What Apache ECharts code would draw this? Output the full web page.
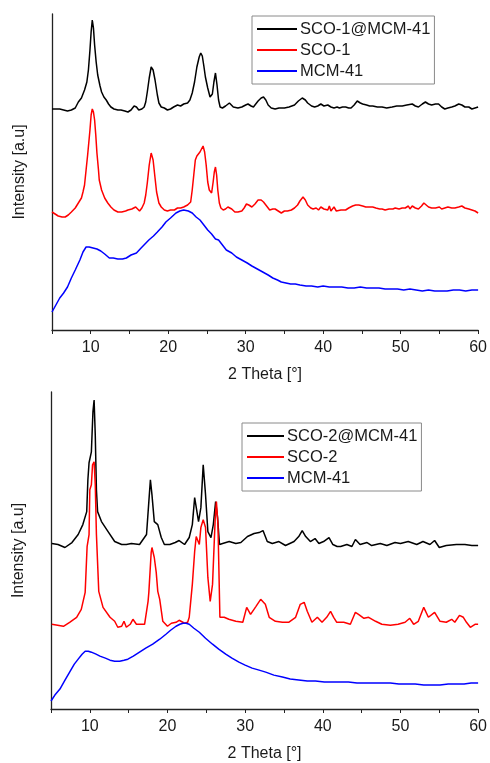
<!DOCTYPE html>
<html><head><meta charset="utf-8">
<script src="https://cdn.jsdelivr.net/npm/echarts@6/dist/echarts.min.js"></script>
<style>html,body{margin:0;padding:0;background:#fff}#c{width:490px;height:763px}</style>
</head><body><div id="c"></div>
<script>
// ---- data: [2theta (deg), intensity (a.u., offset stacked)] ----
const xTicks = [10, 20, 30, 40, 50, 60];
const topNames = ['SCO-1@MCM-41', 'SCO-1', 'MCM-41'];
const botNames = ['SCO-2@MCM-41', 'SCO-2', 'MCM-41 '];

const topBlack = [[5.0,221],[5.5,221],[6.0,221],[6.5,220],[7.0,219],[7.5,220],[8.0,222],[8.4,228],[8.8,232],[9.2,240],[9.5,248],[9.7,260],[9.9,280],[10.05,298],[10.2,310],[10.35,302],[10.5,285],[10.7,268],[10.9,255],[11.2,244],[11.4,238],[11.7,233],[12.0,230],[12.3,226],[12.6,223],[13.0,221],[13.5,220],[13.9,220],[14.4,219],[14.8,218],[15.2,220],[15.6,224],[15.9,223],[16.2,220],[16.6,221],[16.9,223],[17.1,228],[17.3,238],[17.55,252],[17.8,263],[18.05,260],[18.3,250],[18.6,235],[18.8,227],[19.1,223],[19.5,222],[19.9,220],[20.3,221],[20.7,223],[21.2,225],[21.6,224],[22.0,226],[22.5,227],[22.8,230],[23.1,237],[23.4,248],[23.7,263],[24.0,273],[24.2,277],[24.4,274],[24.6,264],[24.8,253],[25.1,242],[25.4,233],[25.7,236],[25.9,248],[26.1,257],[26.3,245],[26.5,230],[26.7,223],[27.0,222],[27.4,224],[27.9,227],[28.4,223],[29.0,222],[29.5,223],[30.0,225],[30.3,226],[30.7,224],[31.0,223],[31.3,226],[31.6,229],[32.0,232],[32.3,233],[32.6,230],[32.9,225],[33.3,222],[33.8,221],[34.3,222],[35.0,222],[35.6,223],[36.3,225],[36.8,229],[37.3,232],[37.7,230],[38.0,227],[38.5,224],[38.9,223],[39.3,224],[39.7,226],[40.1,224],[40.6,225],[41.0,223],[41.4,222],[41.8,223],[42.1,222],[42.5,223],[42.9,223],[43.3,222],[43.6,222],[44.0,225],[44.4,229],[44.8,227],[45.1,226],[45.6,225],[46.0,224],[46.4,224],[47.0,223],[47.6,223],[48.2,222],[48.9,223],[49.5,224],[50.2,224],[50.8,225],[51.5,226],[51.9,224],[52.3,223],[52.8,226],[53.2,228],[53.6,226],[54.0,225],[54.5,226],[54.9,226],[55.3,223],[55.7,221],[56.1,222],[56.6,223],[57.0,224],[57.5,226],[57.9,225],[58.3,223],[58.8,223],[59.2,221],[59.6,222],[60.0,223]];

const topRed = [[5.0,118],[5.4,116],[5.8,114],[6.3,113],[6.7,113],[7.1,115],[7.5,118],[8.0,122],[8.4,127],[8.8,132],[9.0,138],[9.2,145],[9.4,160],[9.6,175],[9.9,200],[10.05,215],[10.2,221],[10.35,218],[10.5,210],[10.65,195],[10.8,177],[11.0,160],[11.1,150],[11.4,140],[11.8,132],[12.2,127],[12.6,123],[13.0,120],[13.5,118],[14.0,118],[14.5,119],[14.8,120],[15.3,121],[15.8,123],[16.3,119],[16.6,122],[16.9,127],[17.1,135],[17.3,147],[17.55,165],[17.8,177],[18.05,170],[18.3,152],[18.5,138],[18.8,127],[19.1,123],[19.5,120],[19.9,119],[20.3,120],[20.8,120],[21.2,122],[21.6,122],[22.0,123],[22.5,125],[22.9,128],[23.1,140],[23.3,155],[23.5,170],[23.7,174],[23.9,175],[24.1,178],[24.3,180],[24.5,184],[24.7,178],[24.9,165],[25.1,148],[25.3,140],[25.6,137],[25.8,148],[25.95,158],[26.1,163],[26.25,155],[26.4,140],[26.6,127],[26.8,122],[27.1,120],[27.4,121],[27.7,123],[27.9,124],[28.2,121],[28.6,118],[29.0,118],[29.5,119],[29.8,122],[30.1,126],[30.4,125],[30.8,123],[31.2,126],[31.6,130],[32.0,130],[32.3,128],[32.7,124],[33.1,120],[33.5,121],[33.8,121],[34.2,119],[34.6,117],[35.0,119],[35.4,119],[35.9,120],[36.3,122],[36.7,125],[37.0,129],[37.4,133],[37.7,130],[38.0,125],[38.4,122],[38.7,121],[39.1,122],[39.4,120],[39.7,123],[40.1,121],[40.6,120],[40.8,124],[41.0,119],[41.4,123],[41.7,119],[41.9,118],[42.3,120],[42.9,120],[43.3,122],[43.8,124],[44.2,125],[44.6,125],[45.1,124],[45.5,123],[46.0,123],[46.4,123],[46.8,122],[47.3,121],[47.6,121],[48.0,120],[48.5,121],[49.0,121],[49.3,122],[49.8,121],[50.2,122],[50.6,122],[51.0,124],[51.2,121],[51.5,124],[51.9,122],[52.3,121],[52.7,124],[53.0,127],[53.3,125],[53.6,123],[54.0,122],[54.5,122],[55.0,123],[55.3,121],[55.7,122],[56.1,123],[56.6,122],[57.0,122],[57.5,123],[57.9,124],[58.3,122],[58.8,121],[59.2,120],[59.6,119],[60.0,117]];

const topBlue = [[5.0,18],[5.5,25],[6.0,32],[6.5,37],[7.0,43],[7.5,52],[8.0,60],[8.6,70],[9.0,78],[9.4,83],[9.8,83],[10.3,82],[10.8,81],[11.3,79],[11.8,76],[12.4,72],[12.9,72],[13.5,71],[14.1,71],[14.6,72],[15.2,75],[15.9,77],[16.5,82],[17.0,86],[17.5,90],[18.1,94],[18.6,98],[19.2,103],[19.7,108],[20.3,112],[21.0,117],[21.5,119],[22.0,120],[22.6,119],[23.1,117],[23.6,113],[24.1,110],[24.6,105],[25.1,100],[25.6,96],[26.1,91],[26.5,90],[27.0,85],[27.5,80],[28.2,77],[28.8,73],[29.5,70],[30.2,67],[30.8,64],[31.5,61],[32.2,58],[32.9,55],[33.5,52],[34.1,50],[34.6,48],[35.2,47],[35.8,46],[36.4,46],[37.0,45],[37.8,44],[38.5,44],[39.3,43],[40.0,44],[40.8,43],[41.6,43],[42.4,43],[43.2,42],[44.0,42],[44.8,43],[45.6,42],[46.4,42],[47.2,42],[48.0,41],[48.8,41],[49.6,41],[50.4,40],[51.2,41],[52.0,40],[52.8,39],[53.6,40],[54.4,39],[55.2,39],[56.0,39],[56.8,40],[57.6,40],[58.4,39],[59.2,40],[60.0,40]];

const botBlack = [[5.1,166],[5.9,165],[6.8,162],[7.7,167],[8.5,175],[9.1,185],[9.6,198],[9.75,230],[9.9,247],[10.0,248],[10.2,258],[10.4,298],[10.55,310],[10.7,275],[10.85,220],[11.0,198],[11.5,188],[12.35,178],[13.2,168],[14.1,165],[14.7,165],[15.35,166],[16.4,165],[16.6,163],[17.3,175],[17.6,208],[17.8,230],[17.9,231],[18.0,215],[18.3,188],[18.75,185],[19.2,172],[19.6,165],[20.3,165],[21.0,167],[21.5,169],[22.2,165],[22.8,172],[23.2,185],[23.5,212],[23.7,213],[24.0,188],[24.3,202],[24.6,245],[24.9,215],[25.2,178],[25.6,172],[25.9,185],[26.2,208],[26.45,192],[26.7,165],[27.1,166],[27.95,168],[28.8,166],[29.45,167],[30.3,173],[31.15,176],[31.8,177],[32.3,179],[32.85,168],[33.5,166],[34.35,168],[35.2,164],[36.3,168],[36.9,173],[37.35,179],[37.8,173],[38.4,168],[39.0,171],[39.5,166],[40.1,168],[40.8,172],[41.3,165],[41.85,163],[42.3,163],[43.1,165],[43.75,163],[44.2,170],[44.8,165],[45.7,167],[46.3,164],[47.4,166],[48.25,164],[49.3,167],[50.0,166],[51.0,168],[52.1,165],[52.9,168],[53.8,165],[54.4,169],[55.0,162],[55.9,164],[57.2,165],[58.3,165],[59.2,164],[60.0,164]];

const botRed = [[5.1,85],[6.6,83],[7.4,87],[8.3,92],[8.9,100],[9.4,117],[9.65,163],[9.9,175],[10.0,220],[10.2,225],[10.35,245],[10.55,248],[10.7,225],[10.85,175],[11.15,118],[11.3,117],[11.7,102],[11.9,100],[12.6,92],[12.8,92],[13.2,88],[13.6,82],[14.1,83],[14.4,88],[14.7,82],[15.2,85],[15.55,90],[15.7,92],[16.0,85],[16.2,86],[17.05,85],[17.5,108],[17.6,117],[17.9,157],[18.0,162],[18.1,160],[18.3,152],[18.55,137],[18.75,118],[19.0,110],[19.4,88],[20.0,83],[20.5,86],[20.7,85],[21.1,87],[21.5,89],[22.2,86],[22.6,87],[22.8,92],[23.2,125],[23.5,158],[23.7,173],[23.9,172],[24.1,165],[24.3,182],[24.6,190],[24.9,182],[25.2,132],[25.5,108],[25.8,125],[26.15,192],[26.3,208],[26.5,185],[26.75,92],[27.3,92],[27.9,90],[28.8,88],[29.7,87],[30.2,102],[30.7,95],[31.4,103],[32.0,110],[32.6,105],[33.1,92],[33.9,88],[34.8,87],[35.6,87],[36.5,92],[37.1,105],[37.6,107],[38.0,98],[38.6,87],[39.3,92],[39.9,87],[40.5,92],[41.0,98],[41.4,92],[41.8,87],[42.05,86],[42.7,87],[43.55,85],[44.2,97],[44.6,95],[45.3,91],[45.9,92],[46.8,88],[47.6,85],[48.7,84],[49.7,85],[50.6,87],[51.2,91],[51.7,85],[52.3,88],[53.0,102],[53.6,92],[54.4,97],[55.1,88],[55.9,87],[56.6,90],[57.0,87],[57.6,94],[58.1,92],[58.5,87],[59.0,82],[59.6,85],[60.0,85]];

const botBlue = [[5.0,8],[5.5,14],[6.15,20],[6.8,29],[7.4,37],[8.0,45],[8.5,50],[9.0,55],[9.4,58],[9.8,58],[10.2,57],[10.8,55],[11.3,53],[12.0,51],[12.6,49],[13.2,48],[13.85,48],[14.4,49],[14.9,50],[15.6,53],[16.4,57],[17.2,61],[18.1,65],[19.0,70],[19.8,75],[20.4,79],[21.1,83],[21.6,85],[22.0,86],[22.4,86],[22.8,85],[23.4,81],[24.1,77],[24.9,71],[25.8,65],[26.6,60],[27.5,55],[28.3,51],[29.2,47],[30.0,44],[30.9,41],[31.8,39],[32.65,37],[33.7,34],[34.8,32],[35.8,30],[36.9,29],[38.0,28],[39.05,28],[40.2,27],[41.2,27],[42.2,27],[43.3,27],[44.4,26],[45.5,26],[46.6,26],[47.6,26],[48.7,26],[49.8,25],[50.8,25],[51.9,25],[53.0,24],[54.0,24],[55.1,24],[56.15,25],[57.2,25],[58.2,25],[59.1,26],[60.0,26]];

// ---- chart ----
const FONT = '"Liberation Sans", Arial, sans-serif';
const colors = ['#000000', '#ff0000', '#0000ff'];
function xAxis(gi) {
  return {
    gridIndex: gi, type: 'value', min: 5, max: 60, interval: 5,
    name: '2 Theta [°]', nameLocation: 'middle', nameGap: 37,
    nameTextStyle: { fontFamily: FONT, fontSize: 16, color: '#1a1a1a' },
    axisLine: { lineStyle: { color: '#222', width: 1.3 } },
    axisTick: { show: true, length: 4, lineStyle: { color: '#222' } },
    axisLabel: { margin: 10, fontFamily: FONT, fontSize: 16, color: '#1a1a1a',
      formatter: v => xTicks.includes(v) ? String(v) : '' },
    splitLine: { show: false }
  };
}
function yAxis(gi, max) {
  return {
    gridIndex: gi, type: 'value', min: 0, max: max,
    name: 'Intensity [a.u]', nameLocation: 'middle', nameGap: 24,
    nameTextStyle: { fontFamily: FONT, fontSize: 16, color: '#1a1a1a' },
    axisLine: { show: true, lineStyle: { color: '#222', width: 1.3 } },
    axisTick: { show: false }, axisLabel: { show: false }, splitLine: { show: false }
  };
}
function line(name, data, color, gi) {
  return { type: 'line', name: name, data: data, xAxisIndex: gi, yAxisIndex: gi,
    symbol: 'none', lineStyle: { color: color, width: 1.5 }, itemStyle: { color: color },
    animation: false };
}
function legend(names, left, top, w) {
  return {
    data: names.map((n, i) => ({ name: n, icon: 'rect', itemStyle: { color: colors[i] } })),
    orient: 'vertical', left: left, top: top,
    itemWidth: w, itemHeight: 2, itemGap: 3, padding: [4, 4, 4, 5],
    borderColor: '#8a8a8a', borderWidth: 1, backgroundColor: '#fff',
    textStyle: { fontFamily: FONT, fontSize: 16.5, lineHeight: 18, color: '#1a1a1a', padding: [0, 0, 0, -2] }
  };
}
const chart = echarts.init(document.getElementById('c'), null, { renderer: 'canvas' });
chart.setOption({
  backgroundColor: '#fff',
  animation: false,
  grid: [
    { left: 52, top: 14, width: 430, height: 316 },
    { left: 51, top: 392, width: 429, height: 318 }
  ],
  xAxis: [xAxis(0), xAxis(1)],
  yAxis: [yAxis(0, 316), yAxis(1, 318)],
  legend: [
    legend(topNames, 252, 16, 40),
    legend(botNames, 242, 423, 37)
  ],
  series: [
    line(topNames[0], topBlack, colors[0], 0),
    line(topNames[1], topRed, colors[1], 0),
    line(topNames[2], topBlue, colors[2], 0),
    line(botNames[0], botBlack, colors[0], 1),
    line(botNames[1], botRed, colors[1], 1),
    line(botNames[2], botBlue, colors[2], 1)
  ]
});
</script></body></html>
